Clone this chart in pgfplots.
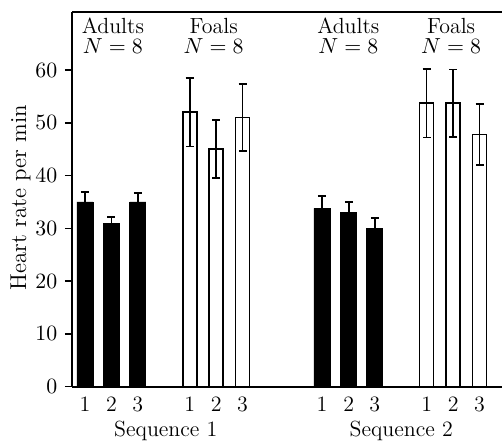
\documentclass[border=0pt]{standalone}
\usepackage{pgfplots}
\pgfplotsset{compat=1.18}
\begin{document}
\fontsize{11}{13}\selectfont
\begin{tikzpicture}
\useasboundingbox (-36bp,-27.15bp) rectangle (215.5bp,193.35bp);
\begin{axis}[
  at={(0bp,0bp)}, anchor=south west,
  scale only axis, width=215bp, height=187.35bp,
  xmin=72, xmax=503, ymin=0, ymax=71,
  axis lines=left,
  axis line style={-, line width=1bp},
  clip=false,
  xtick={85,111.5,138,190,216.5,243,322.5,349.5,375.5,427.5,454,480.5},
  xticklabels={1,2,3,1,2,3,1,2,3,1,2,3},
  x tick label style={yshift=2bp},
  major x tick style={draw=none},
  ytick={0,10,...,60},
  tick align=outside, major tick length=3.5bp,
  tick style={line width=0.8bp, black},
  tick label style={font=\fontsize{11}{13}\selectfont},
  ylabel={Heart rate per min},
  ylabel style={at={(axis description cs:-0.12,0.505)}, anchor=center, font=\fontsize{11.5}{13}\selectfont},
  error bars/y dir=both, error bars/y explicit,
  error bars/error bar style={line width=0.8bp, black},
  error bars/error mark options={rotate=90, mark size=2bp, line width=0.8bp, black},
]
% Sequence 1, adults
\addplot[ybar, bar width=8bp, bar shift=0pt, fill=black, draw=black]
  coordinates {(85,35) +- (0,1.9) (111.5,31) +- (0,1.2) (138,35) +- (0,1.7)};
% Sequence 1, foals
\addplot[ybar, bar width=7bp, bar shift=0pt, fill=white, draw=black, line width=0.8bp]
  coordinates {(190,52) +- (0,6.5) (216.5,45) +- (0,5.5) (243,51) +- (0,6.3)};
% Sequence 2, adults
\addplot[ybar, bar width=8bp, bar shift=0pt, fill=black, draw=black]
  coordinates {(322.5,33.8) +- (0,2.3) (349.5,33) +- (0,2) (375.5,30) +- (0,2)};
% Sequence 2, foals
\addplot[ybar, bar width=7bp, bar shift=0pt, fill=white, draw=black, line width=0.8bp]
  coordinates {(427.5,53.7) +- (0,6.5) (454,53.7) +- (0,6.4) (480.5,47.8) +- (0,5.8)};

% top frame line (no right-hand line in the original)
\draw[line width=1bp] (rel axis cs:0,1) -- (rel axis cs:1,1);

\node[font=\fontsize{11}{13}\selectfont] at (axis cs:113,68.3) {Adults};
\node[font=\fontsize{11}{13}\selectfont] at (axis cs:113,64.6) {$N=8$};
\node[font=\fontsize{11}{13}\selectfont] at (axis cs:214,68.3) {Foals};
\node[font=\fontsize{11}{13}\selectfont] at (axis cs:214,64.6) {$N=8$};
\node[font=\fontsize{11}{13}\selectfont] at (axis cs:349,68.3) {Adults};
\node[font=\fontsize{11}{13}\selectfont] at (axis cs:349,64.6) {$N=8$};
\node[font=\fontsize{11}{13}\selectfont] at (axis cs:452,68.3) {Foals};
\node[font=\fontsize{11}{13}\selectfont] at (axis cs:452,64.6) {$N=8$};
\node[font=\fontsize{11}{13}\selectfont] at (axis cs:166,-8.3) {Sequence 1};
\node[font=\fontsize{11}{13}\selectfont] at (axis cs:402,-8.3) {Sequence 2};
\end{axis}
\end{tikzpicture}
\end{document}
